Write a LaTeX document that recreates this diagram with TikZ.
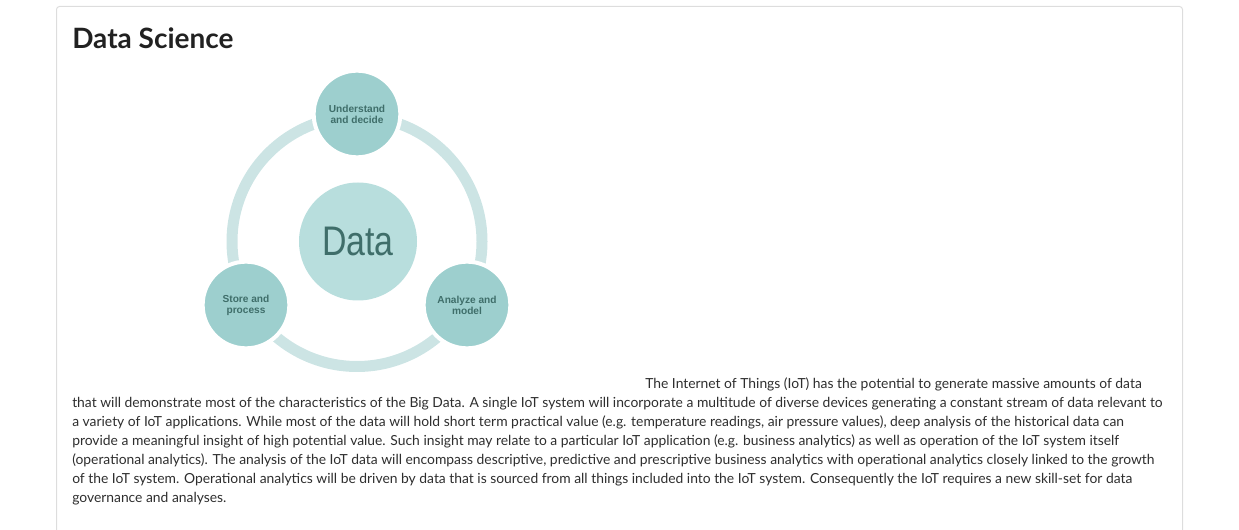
\documentclass[tikz,border=0pt]{standalone}
\usepackage{fontspec}
\setmainfont{Lato}
\newfontfamily\diagfont{Liberation Sans}
\usepackage{tikz}

\definecolor{cardline}{HTML}{DDDDDD}
\definecolor{ringteal}{HTML}{CCE4E4}
\definecolor{stageteal}{HTML}{9DCFCE}
\definecolor{hubteal}{HTML}{B8DEDD}
\definecolor{inkteal}{HTML}{3F6E6A}
\definecolor{bodyink}{HTML}{2E2E2E}

\begin{document}
\begin{tikzpicture}[x=0.75pt, y=-0.75pt]
  \tikzset{stage/.style={circle, fill=stageteal, draw=white, line width=3pt,
             minimum size=65pt, inner sep=0pt, align=center, text=inkteal,
             font=\diagfont\bfseries\fontsize{7.6}{8.25}\selectfont},
           hub/.style={circle, fill=hubteal, minimum size=88.5pt, inner sep=0pt,
             text=inkteal, font=\diagfont\fontsize{31}{34}\selectfont},
           ring/.style={draw=ringteal, line width=8.25pt},
           body/.style={anchor=base west, inner sep=0pt, text=bodyink,
             font=\fontsize{10.4}{14.25}\selectfont}}
  \useasboundingbox (0,0) rectangle (1239,530);
  % card
  \draw[cardline, line width=0.75pt, rounded corners=2.25pt]
    (56.5,530) -- (56.5,6.5) -- (1182.5,6.5) -- (1182.5,530);
  \node[anchor=base west, inner sep=0pt, text=black!87,
        font=\bfseries\fontsize{21}{25}\selectfont] (title) at (72,49) {Data Science};
  % cycle
  \node[hub] (data) at (358,241.5) {\scalebox{0.82}[1]{Data}};
  \draw[ring] (357,241.5) circle[radius=125];
  \node[stage] (understand) at (357,114) {Understand\\and decide};
  \node[stage] (analyze) at (467,305) {Analyze and\\model};
  \node[stage] (store) at (246,305) {Store and\\process};
  % text
  \node[body] (line1) at (645,389) {The Internet of Things (IoT) has the potential to generate massive amounts of data};
  \node[body] (line2) at (72,408) {that will demonstrate most of the characteristics of the Big Data. A single IoT system will incorporate a multitude of diverse devices generating a constant stream of data relevant to};
  \node[body] (line3) at (72,427) {a variety of IoT applications. While most of the data will hold short term practical value (e.g. temperature readings, air pressure values), deep analysis of the historical data can};
  \node[body] (line4) at (72,446) {provide a meaningful insight of high potential value. Such insight may relate to a particular IoT application (e.g. business analytics) as well as operation of the IoT system itself};
  \node[body] (line5) at (72,465) {(operational analytics). The analysis of the IoT data will encompass descriptive, predictive and prescriptive business analytics with operational analytics closely linked to the growth};
  \node[body] (line6) at (72,484) {of the IoT system. Operational analytics will be driven by data that is sourced from all things included into the IoT system. Consequently the IoT requires a new skill-set for data};
  \node[body] (line7) at (72,503) {governance and analyses.};
\end{tikzpicture}
\end{document}
